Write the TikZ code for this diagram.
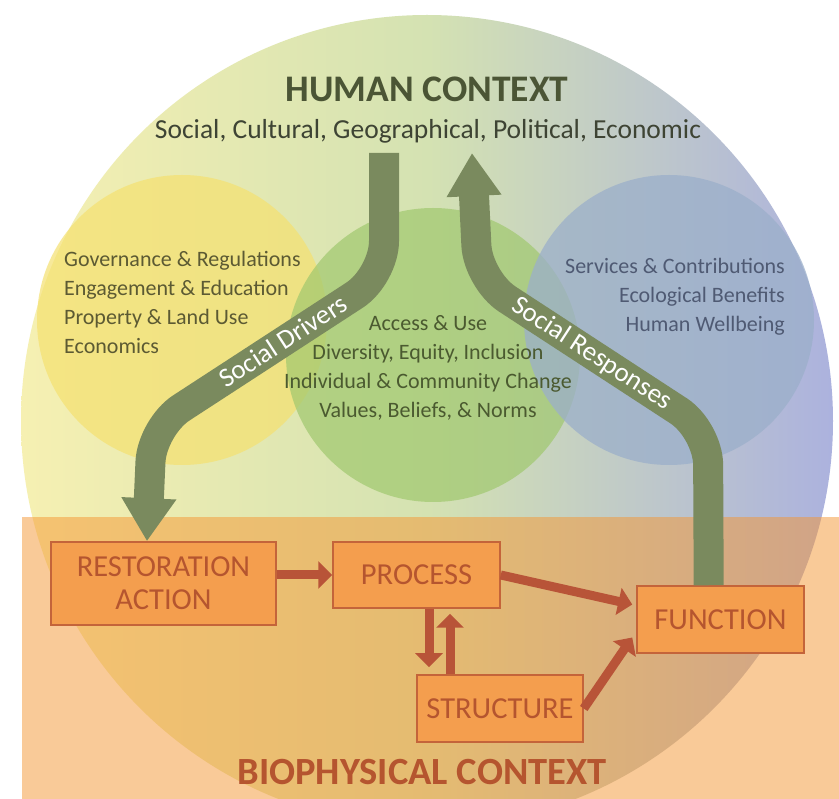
\documentclass[tikz,border=0pt]{standalone}
\usepackage{fontspec}
\setmainfont{Carlito}
\usepackage{tikz}
\definecolor{hcyellow}{RGB}{246,240,178}
\definecolor{hcgreen}{RGB}{212,226,178}
\definecolor{hcblue}{RGB}{172,178,222}
\definecolor{govyellow}{RGB}{245,225,112}
\definecolor{accgreen}{RGB}{160,200,110}
\definecolor{srvblue}{RGB}{155,175,202}
\definecolor{drvolive}{RGB}{122,138,94}
\definecolor{bioorange}{RGB}{245,150,50}
\definecolor{boxorange}{RGB}{244,158,78}
\definecolor{boxedge}{RGB}{196,100,58}
\definecolor{boxrust}{RGB}{181,85,47}
\definecolor{linerust}{RGB}{184,84,56}
\definecolor{txttitle}{RGB}{75,85,53}
\definecolor{txtsub}{RGB}{62,68,52}
\definecolor{txtgov}{RGB}{92,90,51}
\definecolor{txtacc}{RGB}{75,90,48}
\definecolor{txtsrv}{RGB}{79,90,115}
\usetikzlibrary{arrows.meta,positioning,calc}

\begin{document}
\begin{tikzpicture}[
  x=1pt, y=-1pt,
  listtext/.style={inner sep=0pt,font=\fontsize{22}{29}\selectfont},
  procbox/.style={draw=boxedge,line width=1.5pt,fill=boxorange,text=boxrust,
                  font=\fontsize{30.5}{33}\selectfont,align=center,inner sep=0pt},
  arr/.style={-{Triangle[width=27pt,length=14pt]},line width=9pt,linerust},
  drv/.style={-{Triangle[width=52pt,length=43pt]},line width=30pt,drvolive,
              rounded corners=35pt},
  drvlabel/.style={text=white,inner sep=0pt,font=\fontsize{27}{28}\selectfont},
]
  \clip (0,0) rectangle (839,799);
  \fill[white] (0,0) rectangle (839,799);

  % Human context circle and its three themes
  \shade[left color=hcyellow,right color=hcblue,middle color=hcgreen]
    (427,421) circle[radius=406pt];
  \fill[govyellow,opacity=0.7] (182,320) circle[radius=145pt];
  \fill[accgreen,opacity=0.7] (433,355) circle[radius=147pt];
  \fill[srvblue,opacity=0.75] (669,320) circle[radius=145pt];

  % Biophysical band
  \fill[bioorange,opacity=0.5] (22,517) rectangle (839,799);

  % Titles
  \node[text=txttitle,font=\bfseries\fontsize{37.5}{40}\selectfont] (title) at (427,89)
    {HUMAN CONTEXT};
  \node[text=txtsub,font=\fontsize{27.5}{30}\selectfont] (subtitle) at (428,131)
    {Social, Cultural, Geographical, Political, Economic};
  \node[text=boxrust,font=\bfseries\fontsize{38.5}{40}\selectfont] (biotitle) at (422,772)
    {BIOPHYSICAL CONTEXT};

  % Theme lists
  \node[listtext,text=txtgov,align=left,anchor=west] (govlist) at (64,302)
    {Governance \& Regulations\\Engagement \& Education\\Property \& Land Use\\Economics};
  \node[listtext,text=txtacc,align=center] (acclist) at (428,368)
    {Access \& Use\\Diversity, Equity, Inclusion\\Individual \& Community Change\\Values, Beliefs, \& Norms};
  \node[listtext,text=txtsrv,align=right,anchor=east] (srvlist) at (785,297)
    {Services \& Contributions\\Ecological Benefits\\Human Wellbeing};

  % Restoration boxes
  \node[procbox,minimum width=225pt,minimum height=83pt] (rest) at (163.5,583.5)
    {RESTORATION\\ACTION};
  \node[procbox,minimum width=167pt,minimum height=66pt] (proc) at (416.5,575)
    {PROCESS};
  \node[procbox,minimum width=167pt,minimum height=67pt] (func) at (720.5,619.5)
    {FUNCTION};
  \node[procbox,minimum width=166pt,minimum height=67pt] (struc) at (500,708.5)
    {STRUCTURE};

  % Social drivers and responses
  \coordinate (drvtop) at (384,153);
  \coordinate (rsptip) at (472,153);
  \draw[drv] (drvtop) -- (384,276) -- (152,427)
    -- ($(rest.north west)!0.427!(rest.north east)$);
  \draw[drv] ($(func.north west)!0.43!(func.north east)$) -- (708,430) -- (478,280)
    -- (rsptip);
  \node[drvlabel,rotate=33] (drvtext) at (283,341) {Social Drivers};
  \node[drvlabel,rotate=-33] (rsptext) at (592,354) {Social Responses};

  % Arrows between boxes
  \draw[arr] (rest.east |- proc.west) -- (proc.west);
  \draw[arr] (proc.east) -- ($(func.west)+(-4,-15)$);
  \draw[arr] ($(proc.south)+(12.5,0)$) -- ($(struc.north)+(-71,-7)$);
  \draw[arr] ($(struc.north)+(-50,0)$) -- ($(proc.south)+(33.5,5)$);
  \draw[arr] (struc.east) -- ($(func.west)+(-4,18)$);
\end{tikzpicture}
\end{document}
